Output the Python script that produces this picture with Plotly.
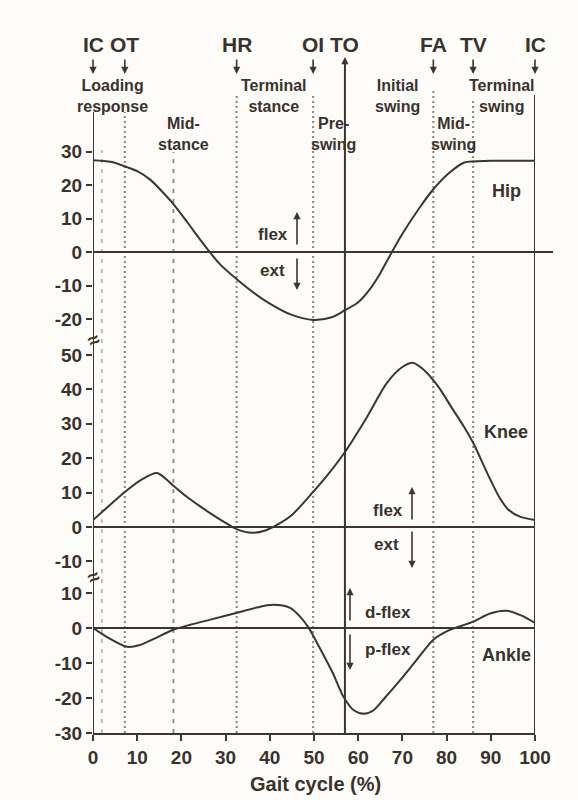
import plotly.graph_objects as go

# ---------------- data ----------------
hip_pct = [0, 4, 7.7, 10, 13, 16, 18.1, 21.3, 24.2, 28.7, 32.6, 36, 40, 45, 49.8, 54, 57, 60, 62.7, 65, 67.2, 70, 74, 77, 80, 84, 90, 100]
hip_deg = [27.5, 27, 25.4, 24.2, 21.6, 17.6, 14.5, 9, 3.8, -3.6, -8.2, -11.8, -15.4, -18.8, -20.3, -19.5, -17.4, -15, -11, -6.3, -1, 5.5, 13.5, 18.8, 23, 26.8, 27.3, 27.3]

knee_pct = [0, 3.5, 7.2, 11, 14.5, 18, 21, 24, 27, 30, 32.6, 36, 39, 41.6, 45, 49.8, 53, 57, 62, 66.5, 70, 72.5, 75, 78, 81, 84, 86, 88, 90, 92, 94, 96.6, 100]
knee_deg = [2, 6, 10.2, 13.8, 15.7, 12.2, 9, 6.2, 3.6, 1.2, -0.7, -1.7, -1, 0.6, 3.5, 10.2, 15, 21.8, 32, 41.9, 46.5, 47.7, 45.5, 41, 35, 29, 24.5, 19, 13.5, 8.5, 5, 3, 2]

ankle_pct = [0, 3, 7.7, 10.6, 14, 18, 22, 27, 32.6, 37, 40.7, 44.6, 47, 48.8, 51, 54.3, 56.6, 59, 61.3, 63.5, 66, 69.5, 73, 77, 80, 82, 86, 90, 93.6, 97, 100]
ankle_deg = [0, -2.5, -5.4, -4.9, -3, -0.6, 0.9, 2.5, 4.3, 5.8, 6.6, 5.7, 3, 0, -5, -13, -19.5, -23.5, -24.5, -23.5, -20, -14.9, -9.5, -3.4, -1, 0, 1.8, 4.2, 4.9, 3.5, 1.4]

x_ticks = [0, 10, 20, 30, 40, 50, 60, 70, 80, 90, 100]
hip_ticks = [-20, -10, 0, 10, 20, 30]
knee_ticks = [-10, 0, 10, 20, 30, 40, 50]
ankle_ticks = [-30, -20, -10, 0, 10]

event_labels = ["IC", "OT", "HR", "OI", "TO", "FA", "TV", "IC"]
event_pct = [0, 7.2, 32.5, 49.8, 57, 77, 86, 100]

phase_top = ["Loading<br>response", "Terminal<br>stance", "Initial<br>swing", "Terminal<br>swing"]
phase_top_pct = [4.5, 41, 69, 92.5]
phase_low = ["Mid-<br>stance", "Pre-<br>swing", "Mid-<br>swing"]
phase_low_pct = [20.5, 54.5, 81.5]

# ---------------- layout geometry ----------------
W, H = 578, 800
L, R, T, B = 93, 43, 100, 67
PH = H - T - B
PW = W - L - R


def py(y):
    return (H - B - y) / PH


def pct(x):
    return (x - L) / PW * 100


LC = "#3d3530"
TC = "#3a322d"
DOT = "#8d847e"
FONT = "Liberation Sans, Arial, sans-serif"

fig = go.Figure()
line_style = dict(color=LC, width=2, shape="spline", smoothing=0.8)
fig.add_trace(go.Scatter(x=hip_pct, y=hip_deg, mode="lines", line=line_style, yaxis="y", hoverinfo="skip"))
fig.add_trace(go.Scatter(x=knee_pct, y=knee_deg, mode="lines", line=line_style, yaxis="y2", hoverinfo="skip"))
fig.add_trace(go.Scatter(x=ankle_pct, y=ankle_deg, mode="lines", line=line_style, yaxis="y3", hoverinfo="skip"))

shapes = []
vlines = [
    (2.0, 150, "4px,6px", "#b3aaa4", 1.5),
    (7.2, 112, "2px,3px", DOT, 2),
    (18.2, 152, "4px,6px", DOT, 1.8),
    (32.5, 95, "2px,3px", DOT, 2),
    (49.8, 95, "2px,3px", DOT, 2),
    (57, 60, "solid", LC, 2),
    (77, 88, "2px,3px", DOT, 2),
    (86, 100, "2px,3px", DOT, 2),
    (100, 95, "solid", LC, 2),
    (0, 112, "solid", LC, 2),
]
for xp, top, dash, col, w in vlines:
    shapes.append(dict(type="line", xref="x", yref="paper", x0=xp, x1=xp, y0=0, y1=py(top),
                       line=dict(color=col, width=w, dash=dash), layer="below"))
shapes.append(dict(type="line", xref="paper", yref="y", x0=0, x1=(553 - L) / PW, y0=0, y1=0,
                   line=dict(color=LC, width=2)))
shapes.append(dict(type="line", xref="paper", yref="y2", x0=0, x1=1, y0=0, y1=0,
                   line=dict(color=LC, width=2)))
shapes.append(dict(type="line", xref="paper", yref="y3", x0=0, x1=1, y0=0, y1=0,
                   line=dict(color=LC, width=2)))

ann = []


def text_ann(x, y, txt, size, xref="x", angle=0, color=TC):
    return dict(x=x, y=y, xref=xref, yref="paper", text=txt, showarrow=False,
                xanchor="center", yanchor="middle", textangle=angle,
                font=dict(size=size, family=FONT, color=color, weight="bold"))


def arrow_ann(x, y_head, y_tail):
    return dict(x=x, y=py(y_head), xref="x", yref="paper", text="", showarrow=True,
                ax=0, ay=y_tail - y_head, arrowhead=2, arrowsize=0.9, arrowwidth=1.6, arrowcolor=LC)


for lab, xp in zip(event_labels, event_pct):
    ann.append(text_ann(xp, py(45), lab, 21))
    if lab == "TO":
        ann.append(arrow_ann(xp, 57, 71))
    else:
        ann.append(arrow_ann(xp, 74, 58))

for txt, xp in zip(phase_top, phase_top_pct):
    ann.append(text_ann(xp, py(96), txt, 16))
for txt, xp in zip(phase_low, phase_low_pct):
    ann.append(text_ann(xp, py(134), txt, 16))

for txt, yy in (("Hip", 191), ("Knee", 432), ("Ankle", 655)):
    ann.append(text_ann(pct(506), py(yy), txt, 18))

dir_labels = [
    ("flex", 273, 234, 297, 246, 212),
    ("ext", 272, 270, 297, 257, 290),
    ("flex", 388, 510, 412, 521, 487),
    ("ext", 386, 544, 412, 530, 568),
    ("d-flex", 388, 612, 350, 622, 588),
    ("p-flex", 388, 649, 350, 633, 670),
]
for txt, tx, ty, axx, y_tail, y_head in dir_labels:
    ann.append(text_ann(pct(tx), py(ty), txt, 17))
    ann.append(arrow_ann(pct(axx), y_head, y_tail))

for yy in (340, 577):
    ann.append(text_ann(0, py(yy), "≈", 20, xref="paper", angle=-25, color=LC))

ann.append(text_ann(pct(28), py(442), "Joint angle (deg)", 19, angle=-90))
ann.append(text_ann(pct(315), py(784), "Gait cycle (%)", 20))

tickfont = dict(size=19, family=FONT, color=TC, weight="bold")
yax_common = dict(showgrid=False, zeroline=False, showline=False, ticks="outside", ticklen=6,
                  tickwidth=2, tickcolor=LC, tickfont=tickfont, anchor="x", fixedrange=True)

fig.update_layout(
    width=W, height=H,
    margin=dict(l=L, r=R, t=T, b=B),
    paper_bgcolor="#fdfcf9", plot_bgcolor="rgba(0,0,0,0)",
    showlegend=False,
    xaxis=dict(range=[0, 100], tickvals=x_ticks, ticktext=[str(v) for v in x_ticks],
               showgrid=False, zeroline=False, showline=True,
               linecolor=LC, linewidth=2, ticks="outside", ticklen=6, tickwidth=2, tickcolor=LC,
               tickfont=tickfont, anchor="y3", fixedrange=True),
    yaxis=dict(domain=[py(345), 1], range=[-27.8, 45.5], tickvals=hip_ticks,
               ticktext=[str(v) for v in hip_ticks], **yax_common),
    yaxis2=dict(domain=[py(575), py(345)], range=[-13.95, 52.9], tickvals=knee_ticks,
                ticktext=[str(v) for v in knee_ticks], **yax_common),
    yaxis3=dict(domain=[0, py(575)], range=[-30, 15.1], tickvals=ankle_ticks,
                ticktext=[str(v) for v in ankle_ticks], **yax_common),
    shapes=shapes,
    annotations=ann,
)

fig.write_html("out.html")
